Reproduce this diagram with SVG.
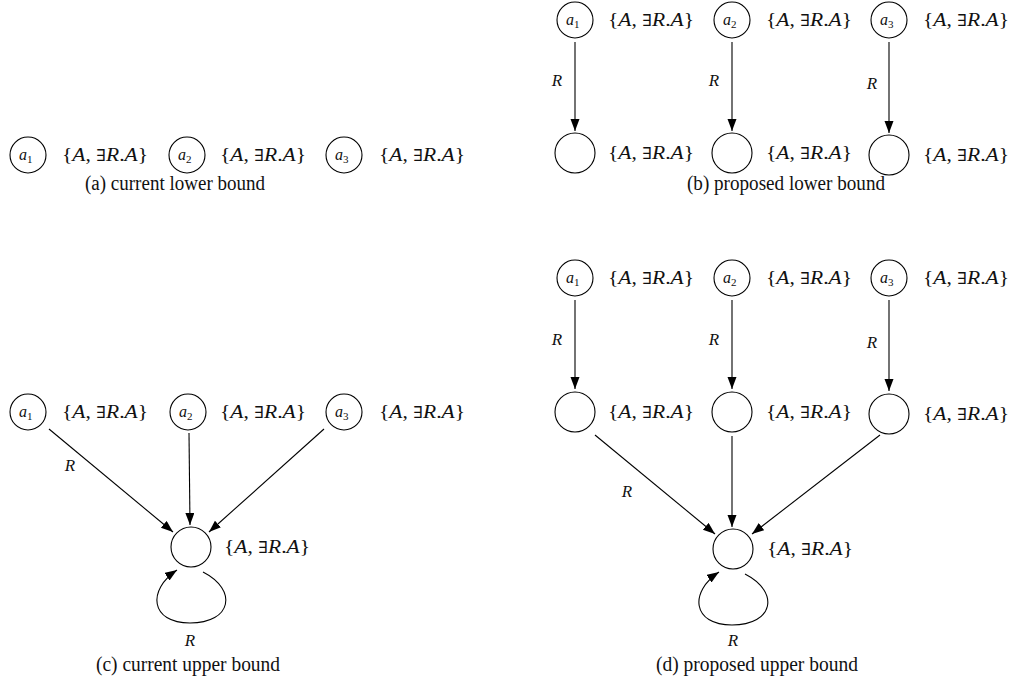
<svg xmlns="http://www.w3.org/2000/svg" width="1017" height="691" viewBox="0 0 1017 691">
  <style>
    .node { fill: none; stroke: #000; stroke-width: 1.1; }
    .edge { fill: none; stroke: #000; stroke-width: 1.1; }
    .nm { font-family: "Liberation Serif", "DejaVu Serif", serif; font-style: italic; font-size: 16px; fill: #111; }
    .sub { font-style: normal; font-size: 11px; }
    .lab { font-family: "Liberation Serif", "DejaVu Serif", serif; font-size: 19px; fill: #111; }
    .it { font-style: italic; }
    .ex { font-family: "DejaVu Serif", serif; font-size: 16px; }
    .cap { font-family: "Liberation Serif", "DejaVu Serif", serif; font-size: 20px; fill: #111; text-anchor: middle; }
    .rl { font-family: "Liberation Serif", "DejaVu Serif", serif; font-style: italic; font-size: 17px; fill: #111; text-anchor: middle; }
  </style>
  <defs>
    <marker id="arrow" markerUnits="userSpaceOnUse" markerWidth="13" markerHeight="10" refX="12" refY="4.5" orient="auto">
      <path d="M0,0 L12,4.5 L0,9 z" fill="#000"/>
    </marker>
    <g id="set">
      <text class="lab" textLength="86" lengthAdjust="spacingAndGlyphs">{<tspan class="it">A</tspan>, <tspan class="ex">∃</tspan><tspan class="it">R</tspan>.<tspan class="it">A</tspan>}</text>
    </g>
  </defs>

  <rect width="1017" height="691" fill="#fff"/>

  <!-- (a) current lower bound -->
  <g id="a-a1"><circle class="node" cx="28" cy="155" r="18"/><text class="nm" x="19" y="160">a<tspan class="sub" dy="3">1</tspan></text><use href="#set" x="62" y="161"/></g>
  <g id="a-a2"><circle class="node" cx="187" cy="155" r="18"/><text class="nm" x="178" y="160">a<tspan class="sub" dy="3">2</tspan></text><use href="#set" x="220" y="161"/></g>
  <g id="a-a3"><circle class="node" cx="344" cy="155" r="18"/><text class="nm" x="335" y="160">a<tspan class="sub" dy="3">3</tspan></text><use href="#set" x="379" y="161"/></g>
  <text class="cap" x="175" y="190" textLength="180" lengthAdjust="spacingAndGlyphs">(a) current lower bound</text>

  <!-- (b) proposed lower bound -->
  <g id="b-a1"><circle class="node" cx="575" cy="20" r="18"/><text class="nm" x="566" y="25">a<tspan class="sub" dy="3">1</tspan></text><use href="#set" x="608" y="26"/></g>
  <g id="b-a2"><circle class="node" cx="732" cy="20" r="18"/><text class="nm" x="723" y="25">a<tspan class="sub" dy="3">2</tspan></text><use href="#set" x="766" y="26"/></g>
  <g id="b-a3"><circle class="node" cx="889" cy="20" r="18"/><text class="nm" x="880" y="25">a<tspan class="sub" dy="3">3</tspan></text><use href="#set" x="923" y="26"/></g>
  <g id="b-x1"><circle class="node" cx="575" cy="153" r="20"/><use href="#set" x="608" y="159"/></g>
  <g id="b-x2"><circle class="node" cx="732" cy="153" r="20"/><use href="#set" x="766" y="159"/></g>
  <g id="b-x3"><circle class="node" cx="889" cy="155" r="20"/><use href="#set" x="923" y="161"/></g>
  <text class="cap" x="786" y="190" textLength="198" lengthAdjust="spacingAndGlyphs">(b) proposed lower bound</text>

  <!-- (c) current upper bound -->
  <g id="c-a1"><circle class="node" cx="28" cy="412" r="18"/><text class="nm" x="19" y="417">a<tspan class="sub" dy="3">1</tspan></text><use href="#set" x="62" y="418"/></g>
  <g id="c-a2"><circle class="node" cx="188" cy="412" r="18"/><text class="nm" x="179" y="417">a<tspan class="sub" dy="3">2</tspan></text><use href="#set" x="220" y="418"/></g>
  <g id="c-a3"><circle class="node" cx="344" cy="412" r="18"/><text class="nm" x="335" y="417">a<tspan class="sub" dy="3">3</tspan></text><use href="#set" x="379" y="418"/></g>
  <g id="c-x"><circle class="node" cx="191" cy="547" r="20"/><use href="#set" x="224" y="553"/></g>
  <text class="cap" x="188" y="671" textLength="184" lengthAdjust="spacingAndGlyphs">(c) current upper bound</text>

  <!-- (d) proposed upper bound -->
  <g id="d-a1"><circle class="node" cx="575" cy="278" r="18"/><text class="nm" x="566" y="283">a<tspan class="sub" dy="3">1</tspan></text><use href="#set" x="608" y="284"/></g>
  <g id="d-a2"><circle class="node" cx="732" cy="278" r="18"/><text class="nm" x="723" y="283">a<tspan class="sub" dy="3">2</tspan></text><use href="#set" x="766" y="284"/></g>
  <g id="d-a3"><circle class="node" cx="889" cy="278" r="18"/><text class="nm" x="880" y="283">a<tspan class="sub" dy="3">3</tspan></text><use href="#set" x="923" y="284"/></g>
  <g id="d-x1"><circle class="node" cx="575" cy="412" r="20"/><use href="#set" x="608" y="418"/></g>
  <g id="d-x2"><circle class="node" cx="732" cy="412" r="20"/><use href="#set" x="766" y="418"/></g>
  <g id="d-x3"><circle class="node" cx="889" cy="414" r="20"/><use href="#set" x="923" y="420"/></g>
  <g id="d-y"><circle class="node" cx="733" cy="549" r="20"/><use href="#set" x="767" y="555"/></g>
  <text class="cap" x="757" y="671" textLength="202" lengthAdjust="spacingAndGlyphs">(d) proposed upper bound</text>

  <!-- connectors -->
  <g id="connectors">
    <!-- (b) -->
    <path class="edge" d="M575,42 L575,131" marker-end="url(#arrow)"/>
    <path class="edge" d="M732,42 L732,131" marker-end="url(#arrow)"/>
    <path class="edge" d="M889,42 L889,133" marker-end="url(#arrow)"/>
    <text class="rl" x="557" y="86">R</text>
    <text class="rl" x="714" y="86">R</text>
    <text class="rl" x="872" y="89">R</text>

    <!-- (c) -->
    <path class="edge" d="M49,429 L173,532" marker-end="url(#arrow)"/>
    <path class="edge" d="M189,433 L190,525" marker-end="url(#arrow)"/>
    <path class="edge" d="M324,429 L209,532" marker-end="url(#arrow)"/>
    <text class="rl" x="70" y="471">R</text>
    <path class="edge" d="M203,572 C238,590 232,623 190,623 C150,623 147,590 177,570" marker-end="url(#arrow)"/>
    <text class="rl" x="190" y="646">R</text>

    <!-- (d) -->
    <path class="edge" d="M575,300 L575,389" marker-end="url(#arrow)"/>
    <path class="edge" d="M732,300 L732,389" marker-end="url(#arrow)"/>
    <path class="edge" d="M889,300 L889,391" marker-end="url(#arrow)"/>
    <text class="rl" x="557" y="345">R</text>
    <text class="rl" x="714" y="345">R</text>
    <text class="rl" x="872" y="348">R</text>
    <path class="edge" d="M595,435 L715,534" marker-end="url(#arrow)"/>
    <path class="edge" d="M732,436 L732,527" marker-end="url(#arrow)"/>
    <path class="edge" d="M880,435 L752,534" marker-end="url(#arrow)"/>
    <text class="rl" x="627" y="497">R</text>
    <path class="edge" d="M745,574 C780,592 774,625 732,625 C692,625 689,592 719,572" marker-end="url(#arrow)"/>
    <text class="rl" x="733" y="646">R</text>
  </g>
</svg>
